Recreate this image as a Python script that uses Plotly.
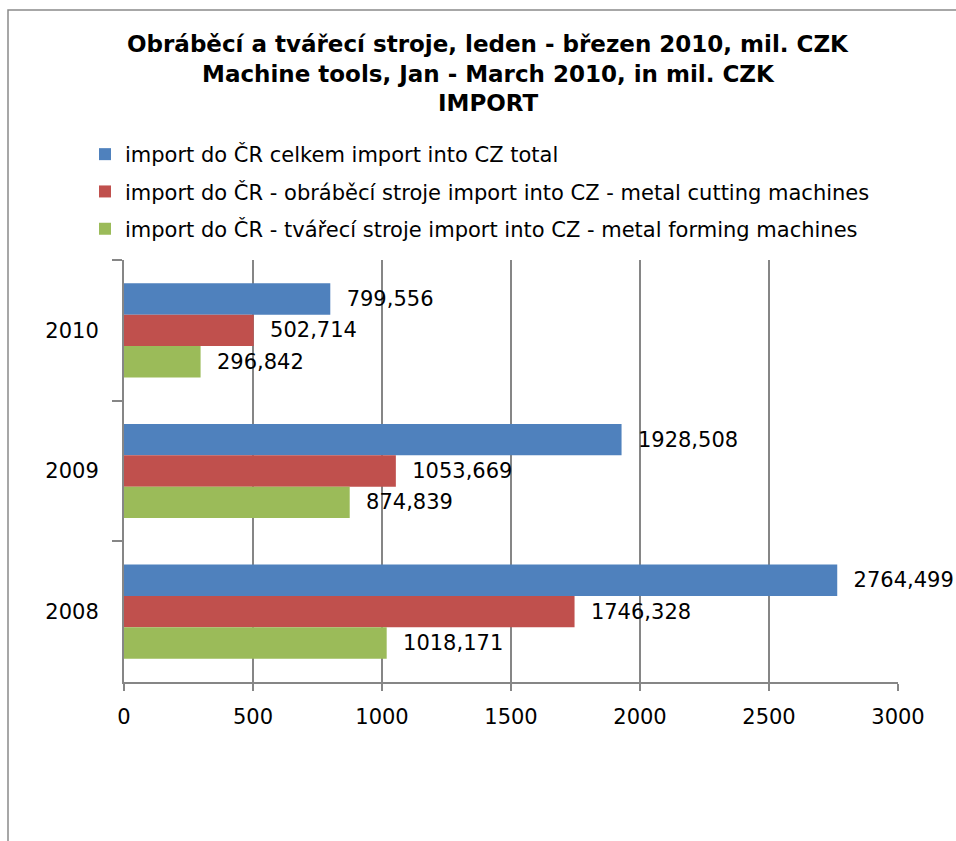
import plotly.graph_objects as go

years = ["2010", "2009", "2008"]
total = [799.556, 1928.508, 2764.499]
cutting = [502.714, 1053.669, 1746.328]
forming = [296.842, 874.839, 1018.171]
series_names = [
    "import do ČR celkem import into CZ total",
    "import do ČR - obráběcí stroje import into CZ - metal cutting machines",
    "import do ČR - tvářecí stroje import into CZ - metal forming machines",
]
series_values = [total, cutting, forming]
colors = ["#4F81BD", "#C0504D", "#9BBB59"]
x_ticks = [0, 500, 1000, 1500, 2000, 2500, 3000]
title_lines = [
    "Obráběcí a tvářecí stroje, leden - březen 2010, mil. CZK",
    "Machine tools, Jan - March 2010, in mil. CZK",
    "IMPORT",
]

# body margin is set to 0 below, so figure coords = page coords
W, H = 956, 841
L, T = 124, 260
R, B = W - 898, H - 682
pw, ph = W - L - R, H - T - B
grey = "#868686"
num_font = dict(family="DejaVu Sans", size=21, color="black")

fig = go.Figure()
for name, vals, col in zip(series_names, series_values, colors):
    fig.add_trace(go.Bar(
        y=years, x=vals, orientation="h", name=name,
        marker=dict(color=col, line=dict(width=0)),
        texttemplate="  %{x:.3f}", textposition="outside",
        textfont=num_font, cliponaxis=False, constraintext="none",
        legendgroup=name, hoverinfo="skip",
    ))

fig.add_shape(type="rect", xref="paper", yref="paper",
              x0=(8 - L) / pw, x1=(W + 40 - L) / pw,
              y0=-(B + 40) / ph, y1=1 + (T - 10) / ph,
              line=dict(color="#8a8a8a", width=1.5), fillcolor="rgba(0,0,0,0)",
              layer="below")

title_y = [44, 74, 103]
for txt, yc in zip(title_lines, title_y):
    fig.add_annotation(
        text=f"<b>{txt}</b>", xref="paper", yref="paper",
        x=(488 - L) / pw, y=1 + (T - yc) / ph, xanchor="center", yanchor="middle",
        showarrow=False, font=dict(family="DejaVu Sans", size=23, color="black"),
    )

fig.update_layout(
    width=W, height=H,
    margin=dict(l=L, r=R, t=T, b=B, autoexpand=False),
    paper_bgcolor="white", plot_bgcolor="white",
    separators=", ",
    barmode="group", bargap=0.33, bargroupgap=0,
    legend=dict(
        x=-39 / pw, xanchor="left", y=1 + (T - 134) / ph, yanchor="top",
        font=dict(family="DejaVu Sans", size=21, color="black"),
        bgcolor="rgba(0,0,0,0)", tracegroupgap=7, traceorder="grouped",
    ),
    showlegend=True,
    xaxis=dict(
        range=[0, 3000], tickvals=x_ticks, showgrid=True,
        gridcolor=grey, gridwidth=2, showline=True, linecolor=grey,
        linewidth=2, ticks="outside", ticklen=7, tickwidth=2, tickcolor=grey,
        tickfont=num_font, ticklabelstandoff=8, zeroline=False,
        fixedrange=True,
    ),
    yaxis=dict(
        type="category", categoryorder="array", categoryarray=years,
        range=[2.5, -0.5], tickson="boundaries", ticks="outside", ticklen=10,
        tickwidth=2, tickcolor=grey, showline=True, linecolor=grey,
        linewidth=2, showgrid=False, tickfont=num_font,
        ticklabelstandoff=19, zeroline=False, fixedrange=True,
    ),
)

fig.write_html(
    "out.html",
    config={"displayModeBar": False},
    post_script="document.body.style.margin='0';"
                "document.documentElement.style.overflow='hidden';"
                "document.body.style.overflow='hidden';",
)
